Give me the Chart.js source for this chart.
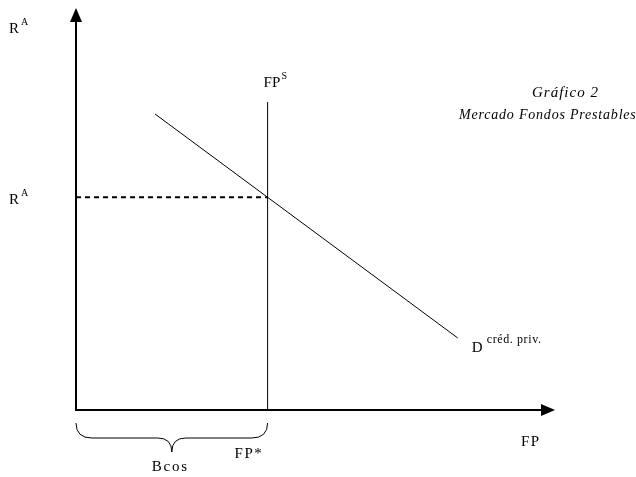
<!DOCTYPE html>
<html>
<head>
<meta charset="utf-8">
<script src="https://cdn.jsdelivr.net/npm/chart.js@4.4.0/dist/chart.umd.min.js"></script>
<style>
  html, body { margin: 0; padding: 0; background: #fff; }
  #wrap { width: 636px; height: 477px; position: relative; }
</style>
</head>
<body>
<div id="wrap"><canvas id="chart"></canvas></div>
<script>
// diagram values (abstract units, 0..100 on both axes)
const demandX = [16.5, 79.7];
const demandY = [74, 18];
const supplyX = [40, 40];
const supplyY = [0, 77];
const eqRate = 53.2;      // R^A at the equilibrium
const eqFunds = 40;       // FP*
const axisMax = { x: 100, y: 100 };

const serif = '"Liberation Serif", "DejaVu Serif", serif';

const labelsPlugin = {
  id: 'labels',
  afterDraw(chart) {
    const { ctx, chartArea: a } = chart;
    const xs = chart.scales.x, ys = chart.scales.y;
    const x0 = xs.getPixelForValue(0), y0 = ys.getPixelForValue(0);

    ctx.save();
    ctx.fillStyle = '#000';
    ctx.strokeStyle = '#000';

    // axes with arrowheads
    ctx.lineWidth = 2;
    ctx.beginPath();
    ctx.moveTo(x0, y0); ctx.lineTo(x0, a.top + 8);
    ctx.moveTo(x0 - 1, y0); ctx.lineTo(a.right - 10, y0);
    ctx.stroke();
    ctx.beginPath();
    ctx.moveTo(x0, a.top - 2); ctx.lineTo(x0 - 6, a.top + 12); ctx.lineTo(x0 + 6, a.top + 12);
    ctx.closePath(); ctx.fill();
    ctx.beginPath();
    ctx.moveTo(a.right, y0); ctx.lineTo(a.right - 14, y0 - 6); ctx.lineTo(a.right - 14, y0 + 6);
    ctx.closePath(); ctx.fill();

    // brace under the axis, from 0 to FP*
    const bx1 = x0, bx2 = xs.getPixelForValue(eqFunds), bm = (bx1 + bx2) / 2;
    const by = y0 + 13, bd = y0 + 28, bt = y0 + 42;
    ctx.lineWidth = 1;
    ctx.beginPath();
    ctx.moveTo(bx1, by);
    ctx.quadraticCurveTo(bx1, bd, bx1 + 16, bd);
    ctx.lineTo(bm - 14, bd);
    ctx.quadraticCurveTo(bm, bd, bm, bt);
    ctx.quadraticCurveTo(bm, bd, bm + 14, bd);
    ctx.lineTo(bx2 - 16, bd);
    ctx.quadraticCurveTo(bx2, bd, bx2, by);
    ctx.stroke();

    // text
    ctx.textBaseline = 'alphabetic';
    ctx.textAlign = 'left';
    const big = '15px ' + serif, small = '10px ' + serif;
    const txt = (s, x, y, f, sp) => {
      ctx.font = f; ctx.letterSpacing = (sp || 0) + 'px'; ctx.fillText(s, x, y);
    };

    const eqY = ys.getPixelForValue(eqRate);
    txt('R', 9, 33, big); txt('A', 21, 25, small);
    txt('R', 9, eqY + 7, big); txt('A', 21, eqY - 1, small);

    const sx = xs.getPixelForValue(supplyX[0]);
    txt('FP', sx - 4, 87, big); txt('S', sx + 14, 79, small);

    const dx = xs.getPixelForValue(demandX[1]), dy = ys.getPixelForValue(demandY[1]);
    txt('D', dx + 14, dy + 14, big); txt('créd. priv.', dx + 29, dy + 5, '12px ' + serif, 0.6);

    txt('Gráfico 2', 532, 97, 'italic 15px ' + serif, 1);
    txt('Mercado Fondos Prestables', 459, 119, 'italic 14px ' + serif, 0.8);

    txt('FP', 521, y0 + 36, big, 1.5);
    txt('FP*', bx2 - 33, y0 + 48, big, 1.5);
    txt('Bcos', bm - 20, y0 + 61, big, 1.8);
    ctx.restore();
  }
};

new Chart(document.getElementById('chart'), {
  type: 'scatter',
  data: {
    datasets: [
      {
        data: demandX.map((x, i) => ({ x, y: demandY[i] })),
        showLine: true, borderColor: '#000', borderWidth: 1, pointRadius: 0,
      },
      {
        data: supplyX.map((x, i) => ({ x, y: supplyY[i] })),
        showLine: true, borderColor: '#000', borderWidth: 1, pointRadius: 0,
      },
      {
        data: [{ x: 0, y: eqRate }, { x: eqFunds, y: eqRate }],
        showLine: true, borderColor: '#000', borderWidth: 2, borderDash: [5, 4], pointRadius: 0,
      },
    ],
  },
  options: {
    responsive: true,
    maintainAspectRatio: false,
    animation: false,
    layout: { padding: { left: 76, top: 10, right: 81, bottom: 67 } },
    scales: {
      x: { type: 'linear', min: 0, max: axisMax.x, display: false },
      y: { type: 'linear', min: 0, max: axisMax.y, display: false },
    },
    plugins: { legend: { display: false }, tooltip: { enabled: false } },
  },
  plugins: [labelsPlugin],
});
</script>
</body>
</html>
